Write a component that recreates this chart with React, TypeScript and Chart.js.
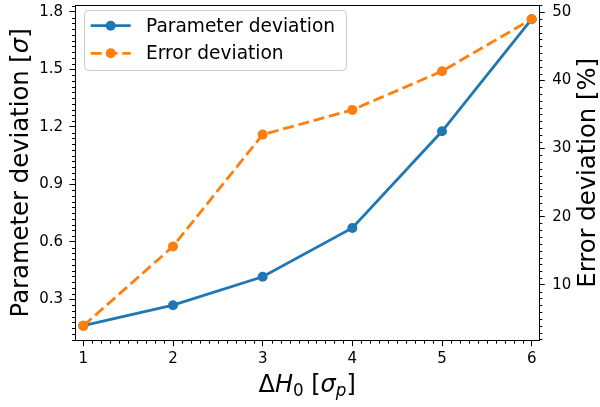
import React, { useEffect, useRef } from "react";
import { Chart, registerables } from "chart.js";

Chart.register(...registerables);

// ---- data ----
const xValues = [1, 2, 3, 4, 5, 6];
const parameterDeviation = [0.163, 0.27, 0.418, 0.673, 1.177, 1.762];
const errorDeviation = [3.98, 15.64, 32.04, 35.67, 41.35, 48.98];
const xTicks = [1, 2, 3, 4, 5, 6];
const leftTicks = [0.3, 0.6, 0.9, 1.2, 1.5, 1.8];
const rightTicks = [10, 20, 30, 40, 50];
const seriesLabels = ["Parameter deviation", "Error deviation"];

const BLUE = "#1f77b4";
const ORANGE = "#ff7f0e";
const FAMILY = "'DejaVu Sans', sans-serif";
const DASH = [11, 4.8];

type Seg = { t: string; it?: boolean; sc?: number; dy?: number };

function drawSegs(ctx: CanvasRenderingContext2D, segs: Seg[], size: number) {
  const fontFor = (s: Seg) =>
    `${s.it ? "italic " : ""}${(size * (s.sc || 1)).toFixed(2)}px ${FAMILY}`;
  let total = 0;
  for (const s of segs) {
    ctx.font = fontFor(s);
    total += ctx.measureText(s.t).width;
  }
  let x = -total / 2;
  ctx.textBaseline = "alphabetic";
  ctx.textAlign = "left";
  for (const s of segs) {
    ctx.font = fontFor(s);
    ctx.fillText(s.t, x, (s.dy || 0) * size);
    x += ctx.measureText(s.t).width;
  }
}

const crisp = (v: number) => Math.round(v) + 0.5;

const decorPlugin = {
  id: "decor",
  afterDraw(chart: any) {
    const ctx: CanvasRenderingContext2D = chart.ctx;
    const { left, right, top, bottom } = chart.chartArea;
    const xs = chart.scales.x;
    const ys = chart.scales.y;
    const y1 = chart.scales.y1;
    ctx.save();
    ctx.strokeStyle = "#000";
    ctx.lineWidth = 1;
    // top spine
    ctx.beginPath();
    ctx.moveTo(left, crisp(top));
    ctx.lineTo(right, crisp(top));
    ctx.stroke();
    // minor ticks
    ctx.beginPath();
    for (let k = Math.ceil(xs.min * 10); k <= Math.floor(xs.max * 10); k++) {
      if (k % 10 === 0) continue;
      const px = crisp(xs.getPixelForValue(k / 10));
      ctx.moveTo(px, bottom);
      ctx.lineTo(px, bottom + 3);
    }
    for (let k = Math.ceil(ys.min / 0.03 - 1e-6); k <= Math.floor(ys.max / 0.03 + 1e-6); k++) {
      if (k % 10 === 0) continue;
      const py = crisp(ys.getPixelForValue(k * 0.03));
      ctx.moveTo(left, py);
      ctx.lineTo(left - 3, py);
    }
    for (let k = Math.ceil(y1.min); k <= Math.floor(y1.max); k++) {
      if (k % 10 === 0) continue;
      const py = crisp(y1.getPixelForValue(k));
      ctx.moveTo(right, py);
      ctx.lineTo(right + 3, py);
    }
    ctx.stroke();

    // axis titles
    ctx.fillStyle = "#000";
    const midY = (top + bottom) / 2;
    ctx.save();
    ctx.translate(27.5, midY);
    ctx.rotate(-Math.PI / 2);
    drawSegs(ctx, [{ t: "Parameter deviation [" }, { t: "σ", it: true }, { t: "]" }], 24.3);
    ctx.restore();

    ctx.save();
    ctx.translate(594.5, midY);
    ctx.rotate(-Math.PI / 2);
    drawSegs(ctx, [{ t: "Error deviation [%]" }], 24.3);
    ctx.restore();

    ctx.save();
    ctx.translate((left + right) / 2, 391.5);
    drawSegs(
      ctx,
      [
        { t: "Δ" },
        { t: "H", it: true },
        { t: "0", sc: 0.7, dy: 0.2 },
        { t: " [" },
        { t: "σ", it: true },
        { t: "p", it: true, sc: 0.7, dy: 0.2 },
        { t: "]" },
      ],
      24
    );
    ctx.restore();

    // legend
    const lx = 84, ly = 10, lw = 262, lh = 60;
    ctx.beginPath();
    ctx.roundRect(lx + 0.5, ly + 0.5, lw, lh, 4);
    ctx.fillStyle = "rgba(255,255,255,0.8)";
    ctx.fill();
    ctx.strokeStyle = "#cccccc";
    ctx.lineWidth = 1;
    ctx.stroke();
    const rows = [
      { y: 25.7, color: BLUE, dash: [] as number[] },
      { y: 53.3, color: ORANGE, dash: DASH },
    ];
    rows.forEach((r, i) => {
      ctx.strokeStyle = r.color;
      ctx.lineWidth = 2.8;
      ctx.setLineDash(r.dash);
      ctx.beginPath();
      ctx.moveTo(90.7, r.y);
      ctx.lineTo(130.7, r.y);
      ctx.stroke();
      ctx.setLineDash([]);
      ctx.fillStyle = r.color;
      ctx.beginPath();
      ctx.arc(110.7, r.y, 5, 0, Math.PI * 2);
      ctx.fill();
      ctx.fillStyle = "#000";
      ctx.font = `18.6px ${FAMILY}`;
      ctx.textBaseline = "middle";
      ctx.textAlign = "left";
      ctx.fillText(seriesLabels[i], 146, r.y + 1);
    });
    ctx.restore();
  },
};

function fixAxis(size: number, horizontal: boolean) {
  return (s: any) => {
    if (horizontal) s.height = size;
    else s.width = size;
    s.paddingTop = 0;
    s.paddingBottom = 0;
    s.paddingLeft = 0;
    s.paddingRight = 0;
  };
}

const tickFont = { family: FAMILY, size: 15 };
const gridOpts = {
  display: true,
  drawOnChartArea: false,
  drawTicks: true,
  tickLength: 5.5,
  tickColor: "#000",
  tickWidth: 1,
};
const borderOpts = { display: true, color: "#000", width: 1 };

export default function App() {
  const ref = useRef<HTMLCanvasElement>(null);
  useEffect(() => {
    const canvas = ref.current!;
    const chart = new Chart(canvas, {
      type: "line",
      data: {
        datasets: [
          {
            label: seriesLabels[0],
            data: xValues.map((x, i) => ({ x, y: parameterDeviation[i] })),
            yAxisID: "y",
            borderColor: BLUE,
            backgroundColor: BLUE,
            pointBackgroundColor: BLUE,
            pointBorderColor: BLUE,
            pointBorderWidth: 0,
            pointRadius: 5,
            borderWidth: 2.8,
            tension: 0,
            order: 1,
          },
          {
            label: seriesLabels[1],
            data: xValues.map((x, i) => ({ x, y: errorDeviation[i] })),
            yAxisID: "y1",
            borderColor: ORANGE,
            backgroundColor: ORANGE,
            pointBackgroundColor: ORANGE,
            pointBorderColor: ORANGE,
            pointBorderWidth: 0,
            pointRadius: 5,
            borderWidth: 2.8,
            borderDash: DASH,
            tension: 0,
            order: 0,
          },
        ],
      },
      options: {
        responsive: false,
        animation: false,
        devicePixelRatio: 1,
        layout: { padding: { top: 2, left: 0, right: 0, bottom: 0 } },
        plugins: { legend: { display: false }, tooltip: { enabled: false } },
        scales: {
          x: {
            type: "linear",
            position: "bottom",
            min: 0.907,
            max: 6.085,
            afterBuildTicks: (s: any) => {
              s.ticks = xTicks.map((v) => ({ value: v }));
            },
            afterFit: fixAxis(66.3, true),
            ticks: {
              font: tickFont,
              color: "#000",
              padding: 4,
              maxRotation: 0,
              autoSkip: false,
              callback: (v: any) => String(v),
            },
            grid: gridOpts,
            border: borderOpts,
          },
          y: {
            type: "linear",
            position: "left",
            min: 0.0847,
            max: 1.836,
            afterBuildTicks: (s: any) => {
              s.ticks = leftTicks.map((v) => ({ value: v }));
            },
            afterFit: fixAxis(75, false),
            ticks: {
              font: tickFont,
              color: "#000",
              padding: 6.5,
              autoSkip: false,
              callback: (v: any) => Number(v).toFixed(1),
            },
            grid: gridOpts,
            border: borderOpts,
          },
          y1: {
            type: "linear",
            position: "right",
            min: 1.8,
            max: 51.06,
            afterBuildTicks: (s: any) => {
              s.ticks = rightTicks.map((v) => ({ value: v }));
            },
            afterFit: fixAxis(60.7, false),
            ticks: {
              font: tickFont,
              color: "#000",
              padding: 7.5,
              autoSkip: false,
              callback: (v: any) => String(v),
            },
            grid: gridOpts,
            border: borderOpts,
          },
        },
      } as any,
      plugins: [decorPlugin],
    });
    return () => chart.destroy();
  }, []);
  return (
    <div
      style={{
        position: "absolute",
        left: 0,
        top: 0,
        width: 600,
        height: 407,
        background: "#fff",
      }}
    >
      <canvas ref={ref} width={600} height={407} />
    </div>
  );
}
